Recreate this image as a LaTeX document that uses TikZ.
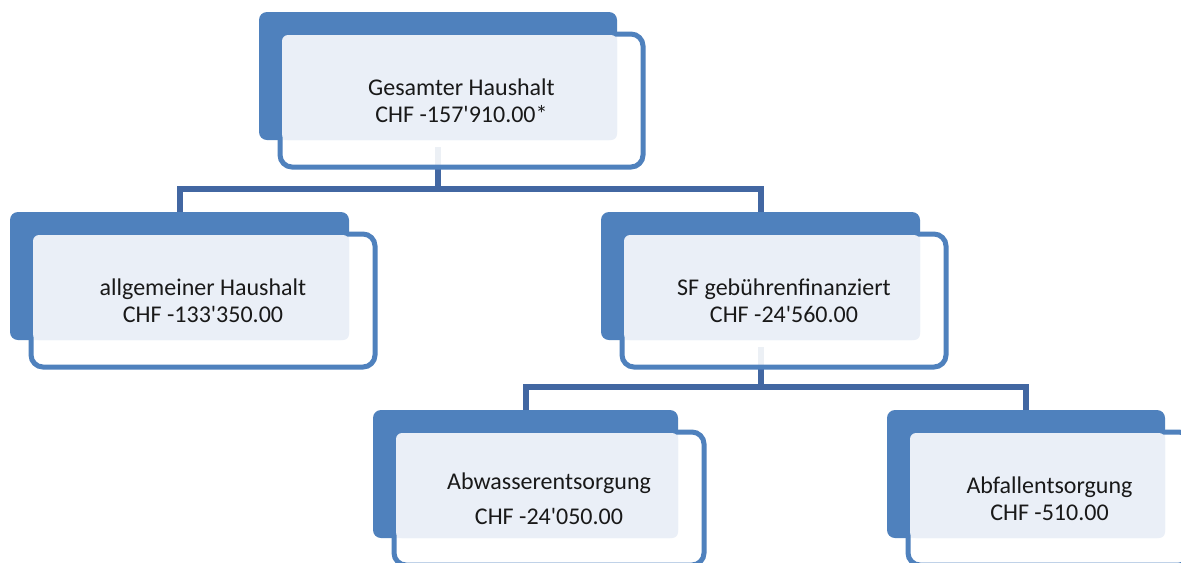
\documentclass[tikz,border=0pt]{standalone}
\usepackage{fontspec}
\setmainfont{Carlito}
\usetikzlibrary{backgrounds}

\definecolor{hhblue}{RGB}{79,129,189}
\definecolor{hhline}{RGB}{66,103,162}
\definecolor{hhlight}{RGB}{234,239,247}

\tikzset{
  darkbox/.style={fill=hhblue, rounded corners=6pt},
  lightbox/.style={fill=hhlight, rounded corners=4.5pt},
  rimbox/.style={draw=hhblue, line width=3.75pt, fill=white, fill opacity=0.9, rounded corners=9pt},
  link/.style={draw=hhline, line width=4.5pt},
  boxtext/.style={align=center, text=black!90, font=\fontsize{18}{20.25}\selectfont}
}

\newcommand{\q}{\textquotesingle}

% name, x0, y0, width, text
\newcommand{\hhbox}[5]{%
  \fill[darkbox] (#2,#3) rectangle ++(#4,128);
  \filldraw[rimbox] (#2+21,#3+22) rectangle ++(#4+5,133);
  \fill[lightbox] (#2+23,#3+23) rectangle (#2+#4,#3+128);
  \node[boxtext] (#1) at (#2+23.5+#4/2,#3+88.5) {#5};
  \coordinate (#1-top) at (#2+#4/2,#3);
  \coordinate (#1-bot) at (#2+#4/2,#3+135);
}

\begin{document}
\begin{tikzpicture}[x=0.75pt, y=-0.75pt]
    \useasboundingbox (0,0) rectangle (1181,562);
    \clip (0,0) rectangle (1181,562);

    \hhbox{gesamt}{259}{12}{358}{Gesamter Haushalt\\CHF -157\q910.00*}
    \hhbox{allg}{10}{212}{339}{allgemeiner Haushalt\\CHF -133\q350.00}
    \hhbox{sf}{601}{212}{319}{SF gebührenfinanziert\\CHF -24\q560.00}
    \hhbox{abw}{373}{410}{305}{Abwasserentsorgung\\[6pt]CHF -24\q050.00}
    \hhbox{abf}{887}{410}{278}{Abfallentsorgung\\CHF -510.00}

    \begin{scope}[on background layer]
    \fill[white] (0,0) rectangle (1181,562);
    \draw[link] (gesamt-bot) -- ++(0,42) -| (allg-top);
    \draw[link] (gesamt-bot) -- ++(0,42) -| (sf-top);
    \draw[link] (sf-bot) -- ++(0,40) -| (abw-top);
    \draw[link] (sf-bot) -- ++(0,40) -| (abf-top);
    \end{scope}
\end{tikzpicture}
\end{document}
